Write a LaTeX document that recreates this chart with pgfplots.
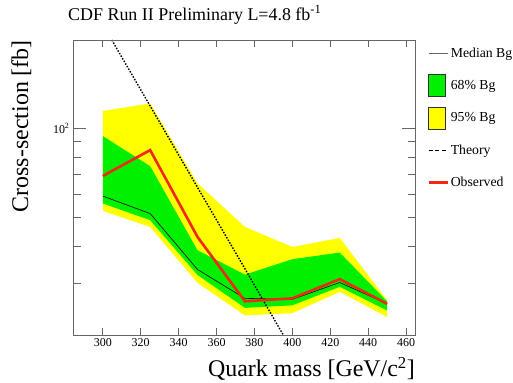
\documentclass[border=0pt]{standalone}
\usepackage{pgfplots}
\pgfplotsset{compat=1.18}
\usepackage{fontspec}
\setmainfont{Liberation Serif}
\definecolor{bandgreen}{RGB}{0,240,0}
\definecolor{bandyellow}{RGB}{255,255,0}
\definecolor{obsred}{RGB}{240,40,20}
\begin{document}
\begin{tikzpicture}
\path[use as bounding box] (0bp,0bp) rectangle (513bp,-383bp);
\begin{axis}[
  at={(73bp,-335bp)}, anchor=south west,
  scale only axis, width=342bp, height=295bp,
  xmin=284.3, xmax=464.7,
  ymode=log, ymin=20, ymax=199,
  tick align=inside,
  axis line style={black!60, line width=0.8bp},
  every tick/.style={black!60, line width=0.8bp},
  tick label style={font=\fontsize{12}{14}\selectfont},
  /pgf/number format/assume math mode=true,
  /pgf/number format/1000 sep={},
  xtick={300,320,...,460},
  ytick={30,40,50,60,70,80,90},
  yticklabel={\phantom{0}},
  major tick length=7.5bp,
  title={CDF Run II Preliminary L=4.8 fb\textsuperscript{-1}},
  title style={at={(rel axis cs:0,1)}, anchor=base west, xshift=-5bp, yshift=14bp, font=\fontsize{18}{20}\selectfont, inner sep=0pt},
  xlabel={Quark mass [GeV/c\textsuperscript{2}]},
  xlabel style={at={(rel axis cs:1,0)}, anchor=base east, yshift=-42bp, font=\fontsize{24}{26}\selectfont, inner sep=0pt},
  ylabel={Cross-section [fb]},
  ylabel style={at={([xshift=-45bp]rel axis cs:0,1)}, rotate=0, anchor=base east, font=\fontsize{24}{26}\selectfont, inner sep=0pt},
  legend cell align=left,
  legend style={at={(rel axis cs:1,1)}, anchor=north west, xshift=12bp, yshift=-2bp,
    draw=none, fill=none, inner sep=0pt, row sep=10bp, column sep=2bp,
    nodes={inner sep=0pt, font=\fontsize{13.8}{16}\selectfont}},
]
% 95% band
\addplot[fill=bandyellow, draw=none, forget plot] coordinates {
  (300,114.4) (325,121.5) (350,65.1) (375,46.4) (400,39.7) (425,42.6) (450,26.2)
  (450,23.0) (425,28.0) (400,23.7) (375,23.3) (350,30.0) (325,46.4) (300,52.6)
} -- cycle;
% 68% band
\addplot[fill=bandgreen, draw=none, forget plot] coordinates {
  (300,94.2) (325,74.5) (350,38.7) (375,32.0) (400,36.1) (425,38.0) (450,26.0)
  (450,24.2) (425,29.1) (400,25.2) (375,24.7) (350,31.9) (325,48.9) (300,55.7)
} -- cycle;
% median
\addplot[black, line width=0.6bp, forget plot] coordinates {
  (300,59.0) (325,51.5) (350,33.3) (375,26.6) (400,26.4) (425,30.1) (450,25.5)
};
% theory
\addplot[black, line width=1.4bp, dash pattern=on 1.5bp off 1.5bp, forget plot] coordinates {
  (300,224.6) (325,119.0) (350,63.1) (375,33.5) (400,17.7)
};
% observed
\addplot[obsred, line width=2.6bp, forget plot] coordinates {
  (300,69.0) (325,84.4) (350,42.9) (375,26.0) (400,26.6) (425,30.9) (450,25.5)
};
% legend
\addlegendimage{legend image code/.code={\path[draw=none,fill=none] (0bp,-11bp) rectangle (19bp,11bp); \draw[black!60, line width=1bp] (0bp,0bp) -- (19bp,0bp);}}
\addlegendentry{Median Bg}
\addlegendimage{legend image code/.code={\path[draw=none,fill=none] (0bp,-11bp) rectangle (19bp,11bp); \draw[fill=bandgreen, draw=black!80, line width=0.6bp] (0bp,-11bp) rectangle (17bp,11bp);}}
\addlegendentry{68\% Bg}
\addlegendimage{legend image code/.code={\path[draw=none,fill=none] (0bp,-11bp) rectangle (19bp,11bp); \draw[fill=bandyellow, draw=black!80, line width=0.6bp] (0bp,-11bp) rectangle (17bp,11bp);}}
\addlegendentry{95\% Bg}
\addlegendimage{legend image code/.code={\path[draw=none,fill=none] (0bp,-11bp) rectangle (19bp,11bp); \draw[black, line width=1.2bp, dash pattern=on 4bp off 2.5bp] (0bp,0bp) -- (19bp,0bp);}}
\addlegendentry{Theory}
\addlegendimage{legend image code/.code={\path[draw=none,fill=none] (0bp,-11bp) rectangle (19bp,11bp); \draw[obsred, line width=2.6bp] (0bp,0bp) -- (19bp,0bp);}}
\addlegendentry{Observed}
\end{axis}
\begin{axis}[
  at={(73bp,-335bp)}, anchor=south west,
  scale only axis, width=342bp, height=295bp,
  xmin=284.3, xmax=464.7,
  ymode=log, ymin=20, ymax=199,
  tick align=inside,
  axis line style={black!60, line width=0.8bp},
  every tick/.style={black!60, line width=0.8bp},
  tick label style={font=\fontsize{12}{14}\selectfont},
  xtick=\empty,
  ytick={100},
  yticklabels={10\textsuperscript{2}},
  major tick length=13bp,
]
\addplot[draw=none, forget plot] coordinates {(300,100)};
\end{axis}
\end{tikzpicture}
\end{document}
